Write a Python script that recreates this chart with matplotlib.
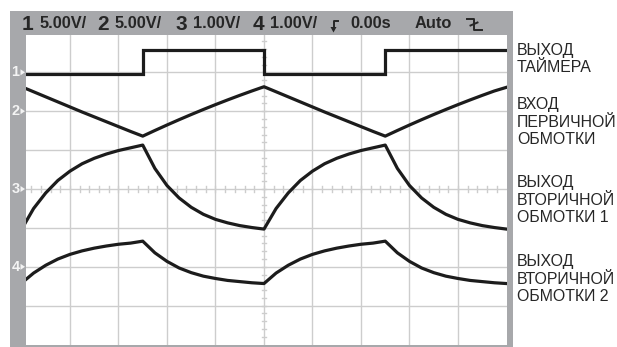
import numpy as np
import matplotlib
matplotlib.use("Agg")
import matplotlib.pyplot as plt
from matplotlib.patches import Rectangle, Polygon
from matplotlib.lines import Line2D

# ---------------- data (divisions) ----------------
t_div = np.linspace(0, 10, 41)          # sample times in screen divisions

ch1_t = [0, 2.5, 5, 7.5, 10]
ch1_v = [2.95, 3.57, 2.95, 3.57, 3.57]

ch2_v = [2.63, 2.50, 2.37, 2.24, 2.11, 1.98, 1.855, 1.73, 1.605, 1.48, 1.36,
         1.505, 1.646, 1.783, 1.916, 2.045, 2.170, 2.291, 2.408, 2.521, 2.63,
         2.50, 2.37, 2.24, 2.11, 1.98, 1.855, 1.73, 1.605, 1.48, 1.36,
         1.505, 1.646, 1.783, 1.916, 2.045, 2.170, 2.291, 2.408, 2.521, 2.615]

ch3_v = [-1.04, -0.50, -0.10, 0.22, 0.46, 0.65, 0.79, 0.90, 0.99, 1.06, 1.13,
         0.53, 0.09, -0.23, -0.47, -0.65, -0.78, -0.87, -0.94, -0.99, -1.03,
         -0.50, -0.10, 0.22, 0.46, 0.65, 0.79, 0.90, 0.99, 1.06, 1.13,
         0.53, 0.09, -0.23, -0.47, -0.65, -0.78, -0.87, -0.94, -0.99, -1.03]

ch4_v = [-2.42, -2.16, -1.96, -1.80, -1.68, -1.59, -1.52, -1.465, -1.42, -1.39, -1.34,
         -1.64, -1.86, -2.03, -2.15, -2.24, -2.30, -2.35, -2.38, -2.41, -2.43,
         -2.16, -1.96, -1.80, -1.68, -1.59, -1.52, -1.465, -1.42, -1.39, -1.34,
         -1.64, -1.86, -2.03, -2.15, -2.24, -2.30, -2.35, -2.38, -2.41, -2.43]

header_digits = ["1", "2", "3", "4"]
header_scales = ["5.00V/", "5.00V/", "1.00V/", "1.00V/"]
header_time = "0.00s"
header_mode = "Auto"
marker_labels = ["1", "2", "3", "4"]
marker_levels = [3, 2, 0, -2]

right_labels = ["ВЫХОД\nТАЙМЕРА",
                "ВХОД\nПЕРВИЧНОЙ\nОБМОТКИ",
                "ВЫХОД\nВТОРИЧНОЙ\nОБМОТКИ 1",
                "ВЫХОД\nВТОРИЧНОЙ\nОБМОТКИ 2"]

# ---------------- figure ----------------
W, H = 617, 347
fig = plt.figure(figsize=(W / 100, H / 100), dpi=100)
fig.patch.set_facecolor("white")

def fx(x):
    return x / W

def fy(y):
    return 1 - y / H

GRAY = "#a7a8ab"
TXT = "#262626"

# plot area
ax_l, ax_r, ax_t, ax_b = 26, 506.5, 35, 345
ax = fig.add_axes([fx(ax_l), fy(ax_b), fx(ax_r - ax_l), (ax_b - ax_t) / H])
ax.set_xlim(0.093, 10.0)
ax.set_ylim(-4.01, 3.96)
ax.axis("off")

GRID = "#cdcdcd"
for gx in range(1, 10):
    ax.axvline(gx, color=GRID, lw=1.0, zorder=1)
for gy in range(-3, 4):
    ax.axhline(gy, color=GRID, lw=1.0, zorder=1)
# minor ticks on centre lines
for tx in np.arange(0.2, 10, 0.2):
    ax.plot([tx, tx], [-0.065, 0.065], color=GRID, lw=1.0, zorder=1)
for ty in np.arange(-3.8, 4, 0.2):
    ax.plot([4.95, 5.05], [ty, ty], color=GRID, lw=1.0, zorder=1)

TR = "#1c1c1c"
LW = 2.3
ax.plot(ch1_t, ch1_v, drawstyle="steps-post", color=TR, lw=LW, zorder=3,
        solid_joinstyle="miter", clip_on=True)
ax.plot(t_div, ch2_v, color=TR, lw=LW, zorder=3, solid_joinstyle="round")
ax.plot(t_div, ch3_v, color=TR, lw=LW, zorder=3, solid_joinstyle="round")
ax.plot(t_div, ch4_v, color=TR, lw=LW, zorder=3, solid_joinstyle="round")

# gray frame
frame = [(10, 11, 16, 336),       # left strip
         (10, 11, 503, 24),       # top strip
         (506.5, 11, 6.5, 336),   # right strip
         (10, 345, 503, 2)]       # bottom strip
for x0, y0, w, h in frame:
    fig.patches.append(Rectangle((fx(x0), fy(y0 + h)), fx(w), h / H,
                                 transform=fig.transFigure, facecolor=GRAY,
                                 edgecolor="none", zorder=5))

# header text
dig_x = [22, 97, 175, 253]
sc_x = [40, 115, 193, 270]
for d, s, dx, sx in zip(header_digits, header_scales, dig_x, sc_x):
    fig.text(fx(dx), fy(29.5), d, fontsize=15, fontweight="bold", color=TXT,
             family="Liberation Sans", va="baseline", ha="left", zorder=6)
    fig.text(fx(sx), fy(28.5), s, fontsize=11.8, fontweight="bold", color=TXT,
             family="Liberation Sans", va="baseline", ha="left", zorder=6)
fig.text(fx(350), fy(28.5), header_time, fontsize=11.8, fontweight="bold",
         color=TXT, family="Liberation Sans", va="baseline", ha="left", zorder=6)
fig.text(fx(415), fy(28.5), header_mode, fontsize=11.8, fontweight="bold",
         color=TXT, family="Liberation Sans", va="baseline", ha="left", zorder=6)

def fline(xs, ys, lw=1.4):
    fig.lines.append(Line2D([fx(v) for v in xs], [fy(v) for v in ys],
                            transform=fig.transFigure, color=TXT, lw=lw,
                            zorder=6))

# trigger slope symbol (down arrow with bar)
fline([337.5, 333.5, 333.5], [20.5, 20.5, 28])
fig.patches.append(Polygon([(fx(330.5), fy(27)), (fx(336.5), fy(27)),
                            (fx(333.5), fy(32.5))], closed=True,
                           transform=fig.transFigure, facecolor=TXT,
                           edgecolor="none", zorder=6))
# falling-edge symbol
fline([466.5, 474, 474, 481.5], [19, 19, 29.5, 29.5])
fline([470.5, 477.5], [25.5, 22.5])

# channel markers on the left strip
for lab, lev in zip(marker_labels, marker_levels):
    ypx = 189 - lev * 38.9
    fig.text(fx(11.5), fy(ypx), lab, fontsize=10.5, fontweight="bold",
             color="#f4f4f4", family="Liberation Sans", va="center",
             ha="left", zorder=7)
    fig.patches.append(Polygon([(fx(20.5), fy(ypx - 3)), (fx(20.5), fy(ypx + 3)),
                                (fx(25), fy(ypx))], closed=True,
                               transform=fig.transFigure, facecolor="#f4f4f4",
                               edgecolor="none", zorder=7))

# right-hand labels
lab_top = [42.5, 97, 175, 254]
for txt, top in zip(right_labels, lab_top):
    fig.text(fx(517), fy(top), txt, fontsize=11.4, color=TXT,
             family="Liberation Sans", va="top", ha="left", linespacing=1.22,
             zorder=6)

fig.savefig("out.png", dpi=100, facecolor="white")
